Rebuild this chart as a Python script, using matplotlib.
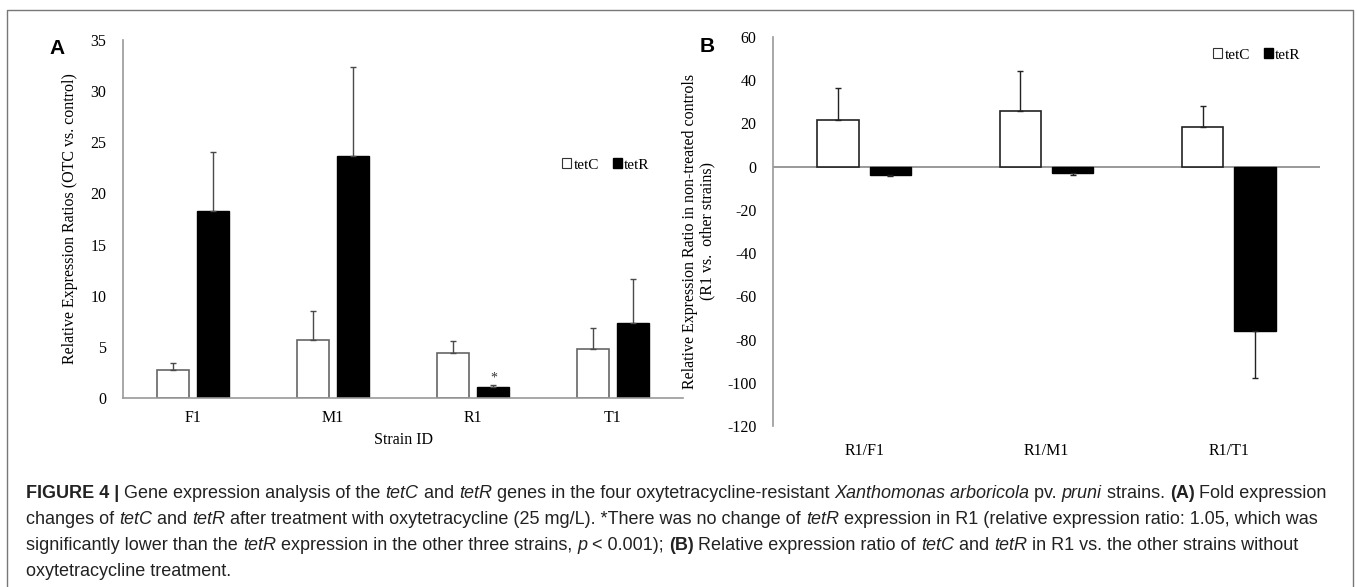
import numpy as np
import matplotlib
matplotlib.use("Agg")
import matplotlib.pyplot as plt
from matplotlib.patches import Patch
from matplotlib.lines import Line2D

plt.rcParams["axes.unicode_minus"] = False

# panel A: fold change after OTC treatment
strains = ["F1", "M1", "R1", "T1"]
a_tetC = [2.77, 5.70, 4.40, 4.75]
a_tetC_err = [0.65, 2.83, 1.17, 2.12]
a_tetR = [18.27, 23.67, 1.05, 7.29]
a_tetR_err = [5.79, 8.70, 0.20, 4.30]

# panel B: R1 vs other strains, untreated
pairs = ["R1/F1", "R1/M1", "R1/T1"]
b_tetC = [21.6, 25.7, 18.5]
b_tetC_err = [14.7, 18.7, 9.8]
b_tetR = [-3.7, -3.1, -76.0]
b_tetR_err = [0.8, 0.6, 22.0]

W, H = 1357, 587
fig = plt.figure(figsize=(W / 100, H / 100), dpi=100)
serif = ["Liberation Serif", "DejaVu Serif"]
sans = ["Liberation Sans", "DejaVu Sans"]
fs = 11.5

def box(l, t, r, b):
    return [l / W, 1 - b / H, (r - l) / W, (b - t) / H]

axA = fig.add_axes(box(123, 40, 683, 398))
axB = fig.add_axes(box(773, 37, 1320, 426))

def one_sided(vals, errs):
    lo = [e if v < 0 else 0 for v, e in zip(vals, errs)]
    hi = [e if v >= 0 else 0 for v, e in zip(vals, errs)]
    return [lo, hi]

# --- A ---
x = np.arange(len(strains))
bw, off = 0.228, 0.146
ekw = dict(ecolor="#4a4a4a", elinewidth=1.0, capsize=2.5, capthick=1.0)
axA.bar(x - off, a_tetC, bw, color="white", edgecolor="#666666", linewidth=1.2,
        yerr=one_sided(a_tetC, a_tetC_err), error_kw=ekw, zorder=2)
axA.bar(x + off, a_tetR, bw, color="black", edgecolor="black",
        yerr=one_sided(a_tetR, a_tetR_err), error_kw=ekw, zorder=2)
axA.text(x[2] + off, a_tetR[2] + a_tetR_err[2] + 0.05, "*", ha="center", va="bottom",
         fontsize=10, family=serif, color="#333333")
axA.set_xlim(-0.5, 3.5)
axA.set_ylim(0, 35)
axA.set_yticks(range(0, 36, 5))
axA.set_xticks(x)
axA.set_xticklabels(strains)
for s in ["top", "right"]:
    axA.spines[s].set_visible(False)
for s in ["left", "bottom"]:
    axA.spines[s].set_color("#999999")
    axA.spines[s].set_linewidth(1.2)
axA.tick_params(length=0, labelsize=fs)
axA.tick_params(axis="x", pad=9)
axA.tick_params(axis="y", pad=12)
for lab in axA.get_xticklabels() + axA.get_yticklabels():
    lab.set_family(serif)
axA.set_ylabel("Relative Expression Ratios (OTC vs. control)", family=serif,
               fontsize=fs, labelpad=9)
axA.set_xlabel("Strain ID", family=serif, fontsize=fs, labelpad=4)

# --- B ---
xb = np.arange(len(pairs))
bwb, offb = 0.226, 0.143
ekwb = dict(ecolor="#222222", elinewidth=1.0, capsize=2.5, capthick=1.0)
axB.bar(xb - offb, b_tetC, bwb, color="white", edgecolor="#222222", linewidth=1.2,
        yerr=one_sided(b_tetC, b_tetC_err), error_kw=ekwb, zorder=2)
axB.bar(xb + offb, b_tetR, bwb, color="black", edgecolor="black",
        yerr=one_sided(b_tetR, b_tetR_err), error_kw=ekwb, zorder=2)
axB.axhline(0, color="#888888", linewidth=1.2, zorder=1)
axB.set_xlim(-0.5, 2.5)
axB.set_ylim(-120, 60)
axB.set_yticks(range(-120, 61, 20))
axB.set_xticks(xb)
axB.set_xticklabels(pairs)
for s in ["top", "right", "bottom"]:
    axB.spines[s].set_visible(False)
axB.spines["left"].set_color("#999999")
axB.spines["left"].set_linewidth(1.2)
axB.tick_params(length=0, labelsize=fs)
axB.tick_params(axis="x", pad=12)
axB.tick_params(axis="y", pad=12)
for lab in axB.get_xticklabels() + axB.get_yticklabels():
    lab.set_family(serif)
axB.set_ylabel("Relative Expression Ratio in non-treated controls\n(R1 vs.  other strains)",
               family=serif, fontsize=fs, labelpad=8, linespacing=1.15)

# legends
handles = [Patch(facecolor="white", edgecolor="#333333", linewidth=0.8),
           Patch(facecolor="black", edgecolor="black")]
for ax, cx, cy in [(axA, 606, 165), (axB, 1257, 55)]:
    ax.legend(handles, ["tetC", "tetR"], ncol=2, frameon=False,
              prop={"family": serif, "size": 11}, handlelength=0.6, handleheight=0.6,
              handletextpad=0.15, columnspacing=0.9, borderpad=0,
              loc="center", bbox_to_anchor=(cx / W, 1 - cy / H),
              bbox_transform=fig.transFigure)

# panel letters
fig.text(57 / W, 1 - 48 / H, "A", fontsize=15, fontweight="bold", family=sans,
         ha="center", va="center")
fig.text(707 / W, 1 - 47 / H, "B", fontsize=15, fontweight="bold", family=sans,
         ha="center", va="center")

# border around the figure
bc = "#777777"
fig.add_artist(Line2D([7 / W, 7 / W, 1353 / W, 1353 / W], [0, 1 - 10 / H, 1 - 10 / H, 0],
                      transform=fig.transFigure, color=bc, linewidth=1.0))

# caption, drawn run by run
cap_font = ["Liberation Sans Narrow", "Liberation Sans", "DejaVu Sans"]
lines = [
    [("FIGURE 4 | ", "b"), ("Gene expression analysis of the ", "n"), ("tetC", "i"),
     (" and ", "n"), ("tetR", "i"), (" genes in the four oxytetracycline-resistant ", "n"),
     ("Xanthomonas arboricola", "i"), (" pv. ", "n"), ("pruni", "i"), (" strains. ", "n"),
     ("(A)", "b"), (" Fold expression", "n")],
    [("changes of ", "n"), ("tetC", "i"), (" and ", "n"), ("tetR", "i"),
     (" after treatment with oxytetracycline (25 mg/L). *There was no change of ", "n"),
     ("tetR", "i"), (" expression in R1 (relative expression ratio: 1.05, which was", "n")],
    [("significantly lower than the ", "n"), ("tetR", "i"),
     (" expression in the other three strains, ", "n"), ("p", "i"), (" < 0.001); ", "n"),
     ("(B)", "b"), (" Relative expression ratio of ", "n"), ("tetC", "i"), (" and ", "n"),
     ("tetR", "i"), (" in R1 vs. the other strains without", "n")],
    [("oxytetracycline treatment.", "n")],
]
renderer = fig.canvas.get_renderer()

def run_width(s, st, size):
    kw = dict(fontsize=size, family=cap_font,
              fontweight="bold" if st == "b" else "normal",
              style="italic" if st == "i" else "normal")
    t = fig.text(0, 0, "|" + s + "|", **kw)
    t2 = fig.text(0, 0, "||", **kw)
    w = t.get_window_extent(renderer).width - t2.get_window_extent(renderer).width
    t.remove()
    t2.remove()
    return w

base = 12
w1 = sum(run_width(s, st, base) for s, st in lines[0])
size = base * (1330 - 26) / w1

ys = [493, 519, 545, 571]
for runs, yy in zip(lines, ys):
    xx = 26
    for s, st in runs:
        fig.text(xx / W, 1 - yy / H, s, fontsize=size, family=cap_font,
                 fontweight="bold" if st == "b" else "normal",
                 style="italic" if st == "i" else "normal",
                 color="#222222", ha="left", va="center")
        xx += run_width(s, st, size)

fig.savefig("out.png", dpi=100)
